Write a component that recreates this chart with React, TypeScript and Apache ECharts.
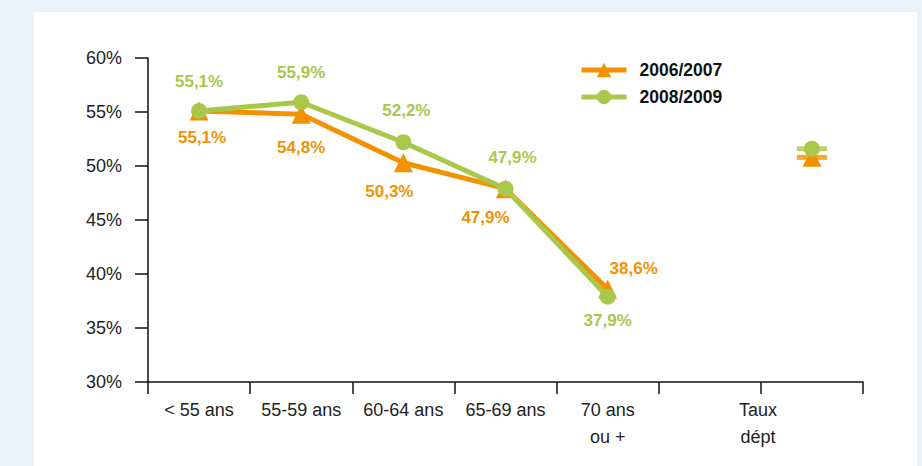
import React, { useEffect, useRef } from "react";
import * as echarts from "echarts";

const categories = ["< 55 ans", "55-59 ans", "60-64 ans", "65-69 ans", "70 ans\nou +", "", "Taux\ndépt"];
const series2006 = [55.1, 54.8, 50.3, 47.9, 38.6, null, 50.8];
const series2008 = [55.1, 55.9, 52.2, 47.9, 37.9, null, 51.6];
const labels2006 = ["55,1%", "54,8%", "50,3%", "47,9%", "38,6%", "", ""];
const labels2008 = ["55,1%", "55,9%", "52,2%", "47,9%", "37,9%", "", ""];
const yTicks = { min: 30, max: 60, interval: 5 };

const ORANGE = "#F39200";
const GREEN = "#A9C84B";
const FONT = "Liberation Sans, Arial, sans-serif";

// label placement per point [position, offsetX, offsetY]
const pos2006: [string, number, number][] = [
  ["bottom", 3, 4], ["bottom", 0, 10], ["bottom", -14, 6], ["bottom", -20, 6], ["top", 26, 2], ["bottom", 0, 0], ["bottom", 0, 0],
];
const pos2008: [string, number, number][] = [
  ["top", 0, -8], ["top", 0, -8], ["top", 3, -10], ["top", 7, -10], ["bottom", 0, 2], ["top", 0, 0], ["top", 0, 0],
];

export default function App() {
  const ref = useRef<HTMLDivElement>(null);
  useEffect(() => {
    document.body.style.margin = "0";
    const chart = echarts.init(ref.current!, null, { renderer: "svg" });
    const mk = (vals: (number | null)[], labs: string[], p: [string, number, number][], color: string) =>
      vals.map((v, i) => ({
        value: v,
        label: {
          show: labs[i] !== "",
          formatter: labs[i],
          position: p[i][0],
          offset: [p[i][1], p[i][2]],
          color,
          fontWeight: "bold",
          fontSize: 17,
          fontFamily: FONT,
        },
      }));
    const dash = (vals: (number | null)[]) => vals.map((v, i) => (i === 6 ? v : null));
    chart.setOption({
      animation: false,
      backgroundColor: "#E9F1F9",
      graphic: [
        { type: "rect", z: -10, shape: { x: 34, y: 12, width: 883, height: 454 }, style: { fill: "#ffffff" } },
      ],
      grid: { left: 148, right: 59, top: 58, bottom: 84 },
      legend: {
        orient: "vertical",
        left: 574,
        top: 56,
        itemWidth: 45,
        itemHeight: 18,
        itemGap: 9,
        data: ["2006/2007", "2008/2009"],
        lineStyle: { width: 5 },
        textStyle: { fontFamily: FONT, fontWeight: "bold", fontSize: 17.5, color: "#111", padding: [0, 0, 0, 8] },
      },
      xAxis: {
        type: "category",
        data: categories,
        boundaryGap: true,
        axisLine: { lineStyle: { color: "#111", width: 1.5 } },
        axisTick: { show: true, length: 12, lineStyle: { color: "#111", width: 1.5 } },
        axisLabel: {
          interval: 0,
          margin: 14,
          color: "#222",
          fontSize: 18,
          fontFamily: FONT,
          lineHeight: 27,
          formatter: (v: string, i: number) => (i === 6 ? "{t|" + v + "}" : v),
          rich: { t: { fontSize: 18, fontFamily: FONT, color: "#222", lineHeight: 27, padding: [0, 108, 0, 0] } },
        },
      },
      yAxis: {
        type: "value",
        min: yTicks.min,
        max: yTicks.max,
        interval: yTicks.interval,
        splitLine: { show: false },
        axisLine: { show: true, lineStyle: { color: "#111", width: 1.5 } },
        axisTick: { show: true, length: 13, lineStyle: { color: "#111", width: 1.5 } },
        axisLabel: { formatter: "{value}%", margin: 26, color: "#222", fontSize: 18, fontFamily: FONT },
      },
      series: [
        {
          name: "2006/2007",
          type: "line",
          data: mk(series2006, labels2006, pos2006, ORANGE),
          color: ORANGE,
          lineStyle: { width: 5, color: ORANGE },
          symbol: "triangle",
          symbolSize: 19,
          itemStyle: { color: ORANGE },
          z: 3,
        },
        {
          name: "2008/2009",
          type: "line",
          data: mk(series2008, labels2008, pos2008, GREEN),
          color: GREEN,
          lineStyle: { width: 5, color: GREEN },
          symbol: "circle",
          symbolSize: 16,
          itemStyle: { color: GREEN },
          z: 4,
        },
        {
          type: "scatter",
          data: dash(series2008),
          symbol: "rect",
          symbolSize: [30, 5],
          itemStyle: { color: GREEN },
          z: 2,
          silent: true,
        },
        {
          type: "scatter",
          data: dash(series2006),
          symbol: "rect",
          symbolSize: [30, 5],
          itemStyle: { color: ORANGE },
          z: 2,
          silent: true,
        },
      ],
    });
    return () => chart.dispose();
  }, []);
  return <div ref={ref} style={{ width: 922, height: 466 }} />;
}
